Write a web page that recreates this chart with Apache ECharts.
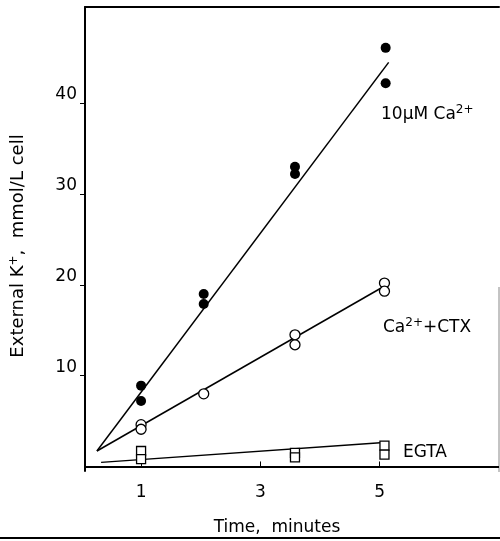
<!DOCTYPE html>
<html><head><meta charset="utf-8">
<script src="https://cdn.jsdelivr.net/npm/echarts@6/dist/echarts.min.js"></script>
<style>html,body{margin:0;padding:0;background:#fff}#c{width:500px;height:541px}</style>
</head><body><div id="c"></div>
<script>
// data (time in minutes, external K+ in mmol/L cell)
const caTime = [1, 1, 2.05, 2.05, 3.58, 3.58, 5.1, 5.1];
const caK = [8.9, 7.2, 19.0, 17.9, 33.0, 32.2, 46.1, 42.2];
const ctxTime = [1, 1, 2.05, 3.58, 3.58, 5.08, 5.08];
const ctxK = [4.6, 4.1, 8.0, 14.5, 13.4, 20.2, 19.3];
const egtaTime = [1, 1, 3.58, 3.58, 5.08, 5.08];
const egtaK = [1.7, 0.8, 1.5, 1.0, 2.3, 1.3];
// fitted lines (endpoints)
const caFitTime = [0.26, 5.15];
const caFitK = [1.7, 44.5];
const ctxFitTime = [0.26, 5.01];
const ctxFitK = [1.7, 19.6];
const egtaFitTime = [0.33, 5.01];
const egtaFitK = [0.45, 2.6];
const xTicks = [1, 3, 5];
const yTicks = [10, 20, 30, 40];

const zip = (a, b) => a.map((v, i) => [v, b[i]]);
const FONT = 'DejaVu Sans';
const chart = echarts.init(document.getElementById('c'));
chart.setOption({
  animation: false,
  backgroundColor: '#fff',
  grid: { left: 85, top: 7, right: 1, bottom: 68.5 },
  xAxis: [{
    type: 'value', min: 0.06, max: 7.0, position: 'bottom',
    axisLine: { show: true, lineStyle: { color: '#000', width: 2, cap: 'butt' } },
    axisTick: { show: true, inside: true, length: 5, customValues: xTicks, lineStyle: { color: '#000', width: 1 } },
    axisLabel: { customValues: xTicks, color: '#000', fontFamily: FONT, fontSize: 17, margin: 13 },
    splitLine: { show: false },
    name: 'Time,  minutes', nameLocation: 'middle', nameGap: 48,
    nameTextStyle: { color: '#000', fontFamily: FONT, fontSize: 17, padding: [0, 30, 0, 0] }
  }, {
    type: 'value', min: 0.06, max: 7.0, position: 'top',
    axisLine: { show: true, lineStyle: { color: '#000', width: 2 } },
    axisTick: { show: false }, axisLabel: { show: false }, splitLine: { show: false }
  }],
  yAxis: {
    type: 'value', min: -0.5, max: 50.6,
    axisLine: { show: true, lineStyle: { color: '#000', width: 2 } },
    axisTick: { show: true, inside: false, length: 5, customValues: yTicks, lineStyle: { color: '#000', width: 1 } },
    axisLabel: { customValues: yTicks, color: '#000', fontFamily: FONT, fontSize: 17, margin: 8, verticalAlign: 'bottom' },
    splitLine: { show: false },
    name: 'External K{sup|+},  mmol/L cell', nameLocation: 'middle', nameRotate: 90, nameGap: 57,
    nameTextStyle: { color: '#000', fontFamily: FONT, fontSize: 18, padding: [0, 14, 0, 0],
      rich: { sup: { fontSize: 12, fontFamily: FONT, color: '#000', verticalAlign: 'top', padding: [0, 0, 8, 0] } } }
  },
  series: [
    { type: 'line', data: zip(caFitTime, caFitK), symbol: 'none', lineStyle: { color: '#000', width: 1.5 }, z: 2 },
    { type: 'line', data: zip(ctxFitTime, ctxFitK), symbol: 'none', lineStyle: { color: '#000', width: 1.5 }, z: 2 },
    { type: 'line', data: zip(egtaFitTime, egtaFitK), symbol: 'none', lineStyle: { color: '#000', width: 1.5 }, z: 2 },
    { type: 'scatter', data: zip(caTime, caK), symbol: 'circle', symbolSize: 10, itemStyle: { color: '#000', opacity: 1 }, z: 3 },
    { type: 'scatter', data: zip(ctxTime, ctxK), symbol: 'circle', symbolSize: 10, itemStyle: { color: '#fff', borderColor: '#000', borderWidth: 1.3, opacity: 1 }, z: 3 },
    { type: 'scatter', data: zip(egtaTime, egtaK), symbol: 'rect', symbolSize: 9, itemStyle: { color: '#fff', borderColor: '#000', borderWidth: 1.3, opacity: 1 }, z: 3 }
  ],
  graphic: [
    { type: 'text', left: 381, top: 104, style: { text: '10\u00b5M Ca{sup|2+}', fill: '#000', font: '17px "DejaVu Sans"',
      rich: { sup: { fontSize: 12, fontFamily: FONT, fill: '#000', padding: [0, 0, 10, 0] } } } },
    { type: 'text', left: 383, top: 317, style: { text: 'Ca{sup|2+}+CTX', fill: '#000', font: '17px "DejaVu Sans"',
      rich: { sup: { fontSize: 12, fontFamily: FONT, fill: '#000', padding: [0, 0, 10, 0] } } } },
    { type: 'text', left: 403, top: 444, style: { text: 'EGTA', fill: '#000', font: '17px "DejaVu Sans"' } },
    { type: 'line', shape: { x1: 499, y1: 287, x2: 499, y2: 472 }, style: { stroke: '#888', lineWidth: 1 } },
    { type: 'line', shape: { x1: 0, y1: 538, x2: 500, y2: 538 }, style: { stroke: '#000', lineWidth: 2 } }
  ]
});
</script></body></html>
